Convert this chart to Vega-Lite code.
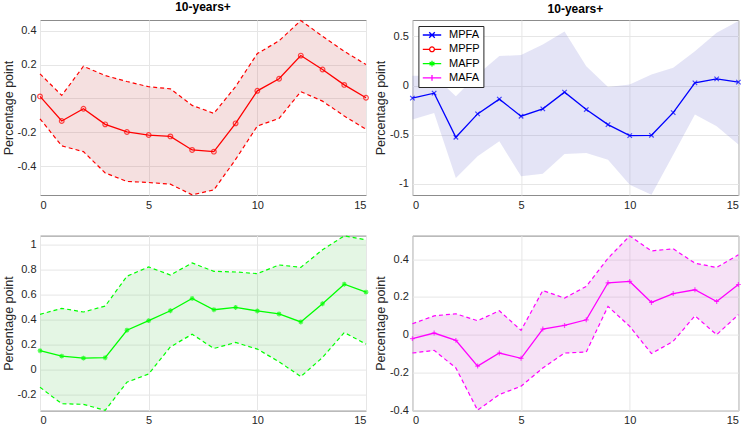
{
"$schema": "https://vega.github.io/schema/vega-lite/v6.json",
"background": "white",
"padding": {"left": 1, "top": 0, "right": 2, "bottom": 2},
"datasets": {
"d": [
{"p":"MPFP","h":0,"mid":0.012,"lo":-0.12,"hi":0.145},
{"p":"MPFP","h":1,"mid":-0.133,"lo":-0.28,"hi":0.018},
{"p":"MPFP","h":2,"mid":-0.061,"lo":-0.314,"hi":0.19},
{"p":"MPFP","h":3,"mid":-0.153,"lo":-0.44,"hi":0.135},
{"p":"MPFP","h":4,"mid":-0.198,"lo":-0.49,"hi":0.10},
{"p":"MPFP","h":5,"mid":-0.216,"lo":-0.496,"hi":0.069},
{"p":"MPFP","h":6,"mid":-0.224,"lo":-0.506,"hi":0.057},
{"p":"MPFP","h":7,"mid":-0.304,"lo":-0.569,"hi":-0.041},
{"p":"MPFP","h":8,"mid":-0.314,"lo":-0.54,"hi":-0.088},
{"p":"MPFP","h":9,"mid":-0.147,"lo":-0.36,"hi":0.07},
{"p":"MPFP","h":10,"mid":0.045,"lo":-0.163,"hi":0.265},
{"p":"MPFP","h":11,"mid":0.116,"lo":-0.118,"hi":0.34},
{"p":"MPFP","h":12,"mid":0.253,"lo":0.04,"hi":0.46},
{"p":"MPFP","h":13,"mid":0.171,"lo":-0.016,"hi":0.367},
{"p":"MPFP","h":14,"mid":0.080,"lo":-0.104,"hi":0.278},
{"p":"MPFP","h":15,"mid":0.004,"lo":-0.182,"hi":0.2},
{"p":"MPFA","h":0,"mid":-0.129,"lo":-0.347,"hi":0.1},
{"p":"MPFA","h":1,"mid":-0.078,"lo":-0.279,"hi":0.1},
{"p":"MPFA","h":2,"mid":-0.527,"lo":-0.942,"hi":-0.11},
{"p":"MPFA","h":3,"mid":-0.289,"lo":-0.721,"hi":0.112},
{"p":"MPFA","h":4,"mid":-0.139,"lo":-0.568,"hi":0.30},
{"p":"MPFA","h":5,"mid":-0.313,"lo":-0.925,"hi":0.31},
{"p":"MPFA","h":6,"mid":-0.238,"lo":-0.898,"hi":0.418},
{"p":"MPFA","h":7,"mid":-0.068,"lo":-0.697,"hi":0.551},
{"p":"MPFA","h":8,"mid":-0.245,"lo":-0.687,"hi":0.197},
{"p":"MPFA","h":9,"mid":-0.398,"lo":-0.755,"hi":-0.014},
{"p":"MPFA","h":10,"mid":-0.51,"lo":-1.01,"hi":0.01},
{"p":"MPFA","h":11,"mid":-0.507,"lo":-1.112,"hi":0.112},
{"p":"MPFA","h":12,"mid":-0.276,"lo":-0.704,"hi":0.18},
{"p":"MPFA","h":13,"mid":0.027,"lo":-0.296,"hi":0.35},
{"p":"MPFA","h":14,"mid":0.068,"lo":-0.415,"hi":0.537},
{"p":"MPFA","h":15,"mid":0.034,"lo":-0.602,"hi":0.656},
{"p":"MAFP","h":0,"mid":0.154,"lo":-0.138,"hi":0.445},
{"p":"MAFP","h":1,"mid":0.111,"lo":-0.27,"hi":0.493},
{"p":"MAFP","h":2,"mid":0.095,"lo":-0.275,"hi":0.464},
{"p":"MAFP","h":3,"mid":0.098,"lo":-0.323,"hi":0.511},
{"p":"MAFP","h":4,"mid":0.318,"lo":-0.098,"hi":0.75},
{"p":"MAFP","h":5,"mid":0.395,"lo":-0.032,"hi":0.824},
{"p":"MAFP","h":6,"mid":0.474,"lo":0.185,"hi":0.76},
{"p":"MAFP","h":7,"mid":0.572,"lo":0.286,"hi":0.856},
{"p":"MAFP","h":8,"mid":0.482,"lo":0.172,"hi":0.789},
{"p":"MAFP","h":9,"mid":0.5,"lo":0.22,"hi":0.784},
{"p":"MAFP","h":10,"mid":0.472,"lo":0.167,"hi":0.771},
{"p":"MAFP","h":11,"mid":0.448,"lo":0.066,"hi":0.84},
{"p":"MAFP","h":12,"mid":0.384,"lo":-0.053,"hi":0.821},
{"p":"MAFP","h":13,"mid":0.53,"lo":0.1,"hi":0.962},
{"p":"MAFP","h":14,"mid":0.686,"lo":0.3,"hi":1.073},
{"p":"MAFP","h":15,"mid":0.623,"lo":0.207,"hi":1.041},
{"p":"MAFA","h":0,"mid":-0.021,"lo":-0.097,"hi":0.058},
{"p":"MAFA","h":1,"mid":0.009,"lo":-0.083,"hi":0.1},
{"p":"MAFA","h":2,"mid":-0.03,"lo":-0.176,"hi":0.111},
{"p":"MAFA","h":3,"mid":-0.166,"lo":-0.4,"hi":0.074},
{"p":"MAFA","h":4,"mid":-0.097,"lo":-0.317,"hi":0.127},
{"p":"MAFA","h":5,"mid":-0.125,"lo":-0.273,"hi":0.023},
{"p":"MAFA","h":6,"mid":0.03,"lo":-0.176,"hi":0.234},
{"p":"MAFA","h":7,"mid":0.049,"lo":-0.097,"hi":0.194},
{"p":"MAFA","h":8,"mid":0.079,"lo":-0.092,"hi":0.256},
{"p":"MAFA","h":9,"mid":0.275,"lo":0.15,"hi":0.405},
{"p":"MAFA","h":10,"mid":0.282,"lo":0.044,"hi":0.523},
{"p":"MAFA","h":11,"mid":0.171,"lo":-0.1,"hi":0.444},
{"p":"MAFA","h":12,"mid":0.218,"lo":-0.035,"hi":0.455},
{"p":"MAFA","h":13,"mid":0.238,"lo":0.1,"hi":0.379},
{"p":"MAFA","h":14,"mid":0.176,"lo":0.0,"hi":0.356},
{"p":"MAFA","h":15,"mid":0.266,"lo":0.106,"hi":0.423}
],
"leg": [{"series":"MPFA"},{"series":"MPFP"},{"series":"MAFP"},{"series":"MAFA"}]
},
"data": {"name": "d"},
"columns": 2,
"spacing": {"row": 40.6, "column": 46.4},
"bounds": "flush",
"resolve": {"scale": {"color": "independent", "shape": "independent"}},
"concat": [
{
"width": 326, "height": 175,
"title": "10-years+",
"transform": [{"filter": "datum.p === 'MPFP'"}],
"encoding": {"x": {"field": "h", "type": "quantitative", "scale": {"domain": [0, 15], "nice": false}, "axis": {"values": [0, 5, 10, 15], "title": null}}},
"layer": [
{"mark": {"type": "area", "color": "#cd6464", "opacity": 0.2},
 "encoding": {"y": {"field": "lo", "type": "quantitative", "scale": {"domain": [-0.57, 0.463], "nice": false, "zero": false}, "axis": {"values": [-0.4, -0.2, 0, 0.2, 0.4], "tickCount": 10, "title": "Percentage point", "labelExpr": "toString(datum.value)", "labelOverlap": false}}, "y2": {"field": "hi"}}},
{"mark": {"type": "rule", "color": "#000000", "strokeWidth": 1.2}, "encoding": {"y": {"datum": 0}}},
{"mark": {"type": "line", "color": "#ff0000", "strokeWidth": 1.2, "strokeDash": [4, 3]}, "encoding": {"y": {"field": "hi", "type": "quantitative"}}},
{"mark": {"type": "line", "color": "#ff0000", "strokeWidth": 1.2, "strokeDash": [4, 3]}, "encoding": {"y": {"field": "lo", "type": "quantitative"}}},
{"mark": {"type": "line", "color": "#ff0000", "strokeWidth": 1.3}, "encoding": {"y": {"field": "mid", "type": "quantitative"}}},
{"mark": {"type": "point", "color": "#ff0000", "shape": "circle", "filled": false, "size": 22, "strokeWidth": 1.2}, "encoding": {"y": {"field": "mid", "type": "quantitative"}}}
]
},
{
"width": 326, "height": 175,
"title": "10-years+",
"transform": [{"filter": "datum.p === 'MPFA'"}],
"encoding": {"x": {"field": "h", "type": "quantitative", "scale": {"domain": [0, 15], "nice": false}, "axis": {"values": [0, 5, 10, 15], "title": null}}},
"layer": [
{"mark": {"type": "area", "color": "#7878d2", "opacity": 0.2},
 "encoding": {"y": {"field": "lo", "type": "quantitative", "scale": {"domain": [-1.115, 0.667], "nice": false, "zero": false}, "axis": {"values": [-1, -0.5, 0, 0.5], "tickCount": 10, "title": "Percentage point", "labelExpr": "toString(datum.value)", "labelOverlap": false}}, "y2": {"field": "hi"}}},
{"mark": {"type": "rule", "color": "#000000", "strokeWidth": 1.2}, "encoding": {"y": {"datum": 0}}},
{"mark": {"type": "line", "color": "#0000ff", "strokeWidth": 1.3}, "encoding": {"y": {"field": "mid", "type": "quantitative"}}},
{"mark": {"type": "point", "color": "#0000ff", "shape": "M-1,-1L1,1M-1,1L1,-1", "filled": false, "size": 20, "strokeWidth": 1.2}, "encoding": {"y": {"field": "mid", "type": "quantitative"}}},
{"data": {"name": "leg"},
 "mark": {"type": "point", "filled": false, "opacity": 0},
 "encoding": {
  "color": {"field": "series", "type": "nominal", "scale": {"domain": ["MPFA", "MPFP", "MAFP", "MAFA"], "range": ["#0000ff", "#ff0000", "#00ff00", "#ff00ff"]},
   "legend": {"orient": "top-left", "offset": 6, "title": null, "fillColor": "white", "strokeColor": "#262626", "padding": 3.5, "labelFont": "Liberation Sans", "labelFontSize": 11, "labelColor": "#000000", "symbolSize": 64, "symbolStrokeWidth": 1.3, "symbolOffset": 4.6, "labelOffset": 11.6, "rowPadding": 2.3, "symbolOpacity": 1, "encode": {"symbols": {"update": {"opacity": {"value": 1}, "strokeOpacity": {"value": 1}}}}}},
  "shape": {"field": "series", "type": "nominal", "scale": {"domain": ["MPFA", "MPFP", "MAFP", "MAFA"], "range": ["M-2.3,0H2.3M-0.7,-0.7L0.7,0.7M-0.7,0.7L0.7,-0.7", "M-2.3,0H-0.6M0.6,0H2.3M-0.6,0A0.6,0.6 0 1,0 0.6,0A0.6,0.6 0 1,0 -0.6,0", "M-2.3,0H2.3M0,-0.7V0.7M-0.6,-0.4L0.6,0.4M-0.6,0.4L0.6,-0.4", "M-2.3,0H2.3M0,-0.7V0.7"]}}
 }}
]
},
{
"width": 326, "height": 175,
"transform": [{"filter": "datum.p === 'MAFP'"}],
"encoding": {"x": {"field": "h", "type": "quantitative", "scale": {"domain": [0, 15], "nice": false}, "axis": {"values": [0, 5, 10, 15], "title": null}}},
"layer": [
{"mark": {"type": "area", "color": "#78d278", "opacity": 0.2},
 "encoding": {"y": {"field": "lo", "type": "quantitative", "scale": {"domain": [-0.325, 1.075], "nice": false, "zero": false}, "axis": {"values": [-0.2, 0, 0.2, 0.4, 0.6, 0.8, 1], "tickCount": 10, "title": "Percentage point", "labelExpr": "toString(datum.value)", "labelOverlap": false}}, "y2": {"field": "hi"}}},
{"mark": {"type": "rule", "color": "#000000", "strokeWidth": 1.2}, "encoding": {"y": {"datum": 0}}},
{"mark": {"type": "line", "color": "#00ff00", "strokeWidth": 1.2, "strokeDash": [4, 3]}, "encoding": {"y": {"field": "hi", "type": "quantitative"}}},
{"mark": {"type": "line", "color": "#00ff00", "strokeWidth": 1.2, "strokeDash": [4, 3]}, "encoding": {"y": {"field": "lo", "type": "quantitative"}}},
{"mark": {"type": "line", "color": "#00ff00", "strokeWidth": 1.3}, "encoding": {"y": {"field": "mid", "type": "quantitative"}}},
{"mark": {"type": "point", "color": "#00ff00", "shape": "M-1,0H1M0,-1V1M-0.7,-0.7L0.7,0.7M-0.7,0.7L0.7,-0.7", "filled": false, "size": 24, "strokeWidth": 1.2}, "encoding": {"y": {"field": "mid", "type": "quantitative"}}}
]
},
{
"width": 326, "height": 175,
"transform": [{"filter": "datum.p === 'MAFA'"}],
"encoding": {"x": {"field": "h", "type": "quantitative", "scale": {"domain": [0, 15], "nice": false}, "axis": {"values": [0, 5, 10, 15], "title": null}}},
"layer": [
{"mark": {"type": "area", "color": "#d26ed2", "opacity": 0.2},
 "encoding": {"y": {"field": "lo", "type": "quantitative", "scale": {"domain": [-0.402, 0.525], "nice": false, "zero": false}, "axis": {"values": [-0.4, -0.2, 0, 0.2, 0.4], "tickCount": 10, "title": "Percentage point", "labelExpr": "toString(datum.value)", "labelOverlap": false}}, "y2": {"field": "hi"}}},
{"mark": {"type": "rule", "color": "#000000", "strokeWidth": 1.2}, "encoding": {"y": {"datum": 0}}},
{"mark": {"type": "line", "color": "#ff00ff", "strokeWidth": 1.2, "strokeDash": [4, 3]}, "encoding": {"y": {"field": "hi", "type": "quantitative"}}},
{"mark": {"type": "line", "color": "#ff00ff", "strokeWidth": 1.2, "strokeDash": [4, 3]}, "encoding": {"y": {"field": "lo", "type": "quantitative"}}},
{"mark": {"type": "line", "color": "#ff00ff", "strokeWidth": 1.3}, "encoding": {"y": {"field": "mid", "type": "quantitative"}}},
{"mark": {"type": "point", "color": "#ff00ff", "shape": "M-1,0H1M0,-1V1", "filled": false, "size": 24, "strokeWidth": 1.2}, "encoding": {"y": {"field": "mid", "type": "quantitative"}}}
]
}
],
"config": {
"font": "Liberation Sans",
"view": {"stroke": "#8c8c8c", "strokeWidth": 1},
"axis": {"labelFont": "Liberation Sans", "labelFontSize": 11, "labelColor": "#262626", "titleFont": "Liberation Sans", "titleFontSize": 12.5, "titleFontWeight": "normal", "titleColor": "#262626", "gridColor": "#e6e6e6", "domain": false, "ticks": false, "labelPadding": 4, "titlePadding": 2, "labelOverlap": false},
"title": {"font": "Liberation Sans", "fontSize": 12, "fontWeight": "bold", "color": "#000000", "offset": 4}
}
}
